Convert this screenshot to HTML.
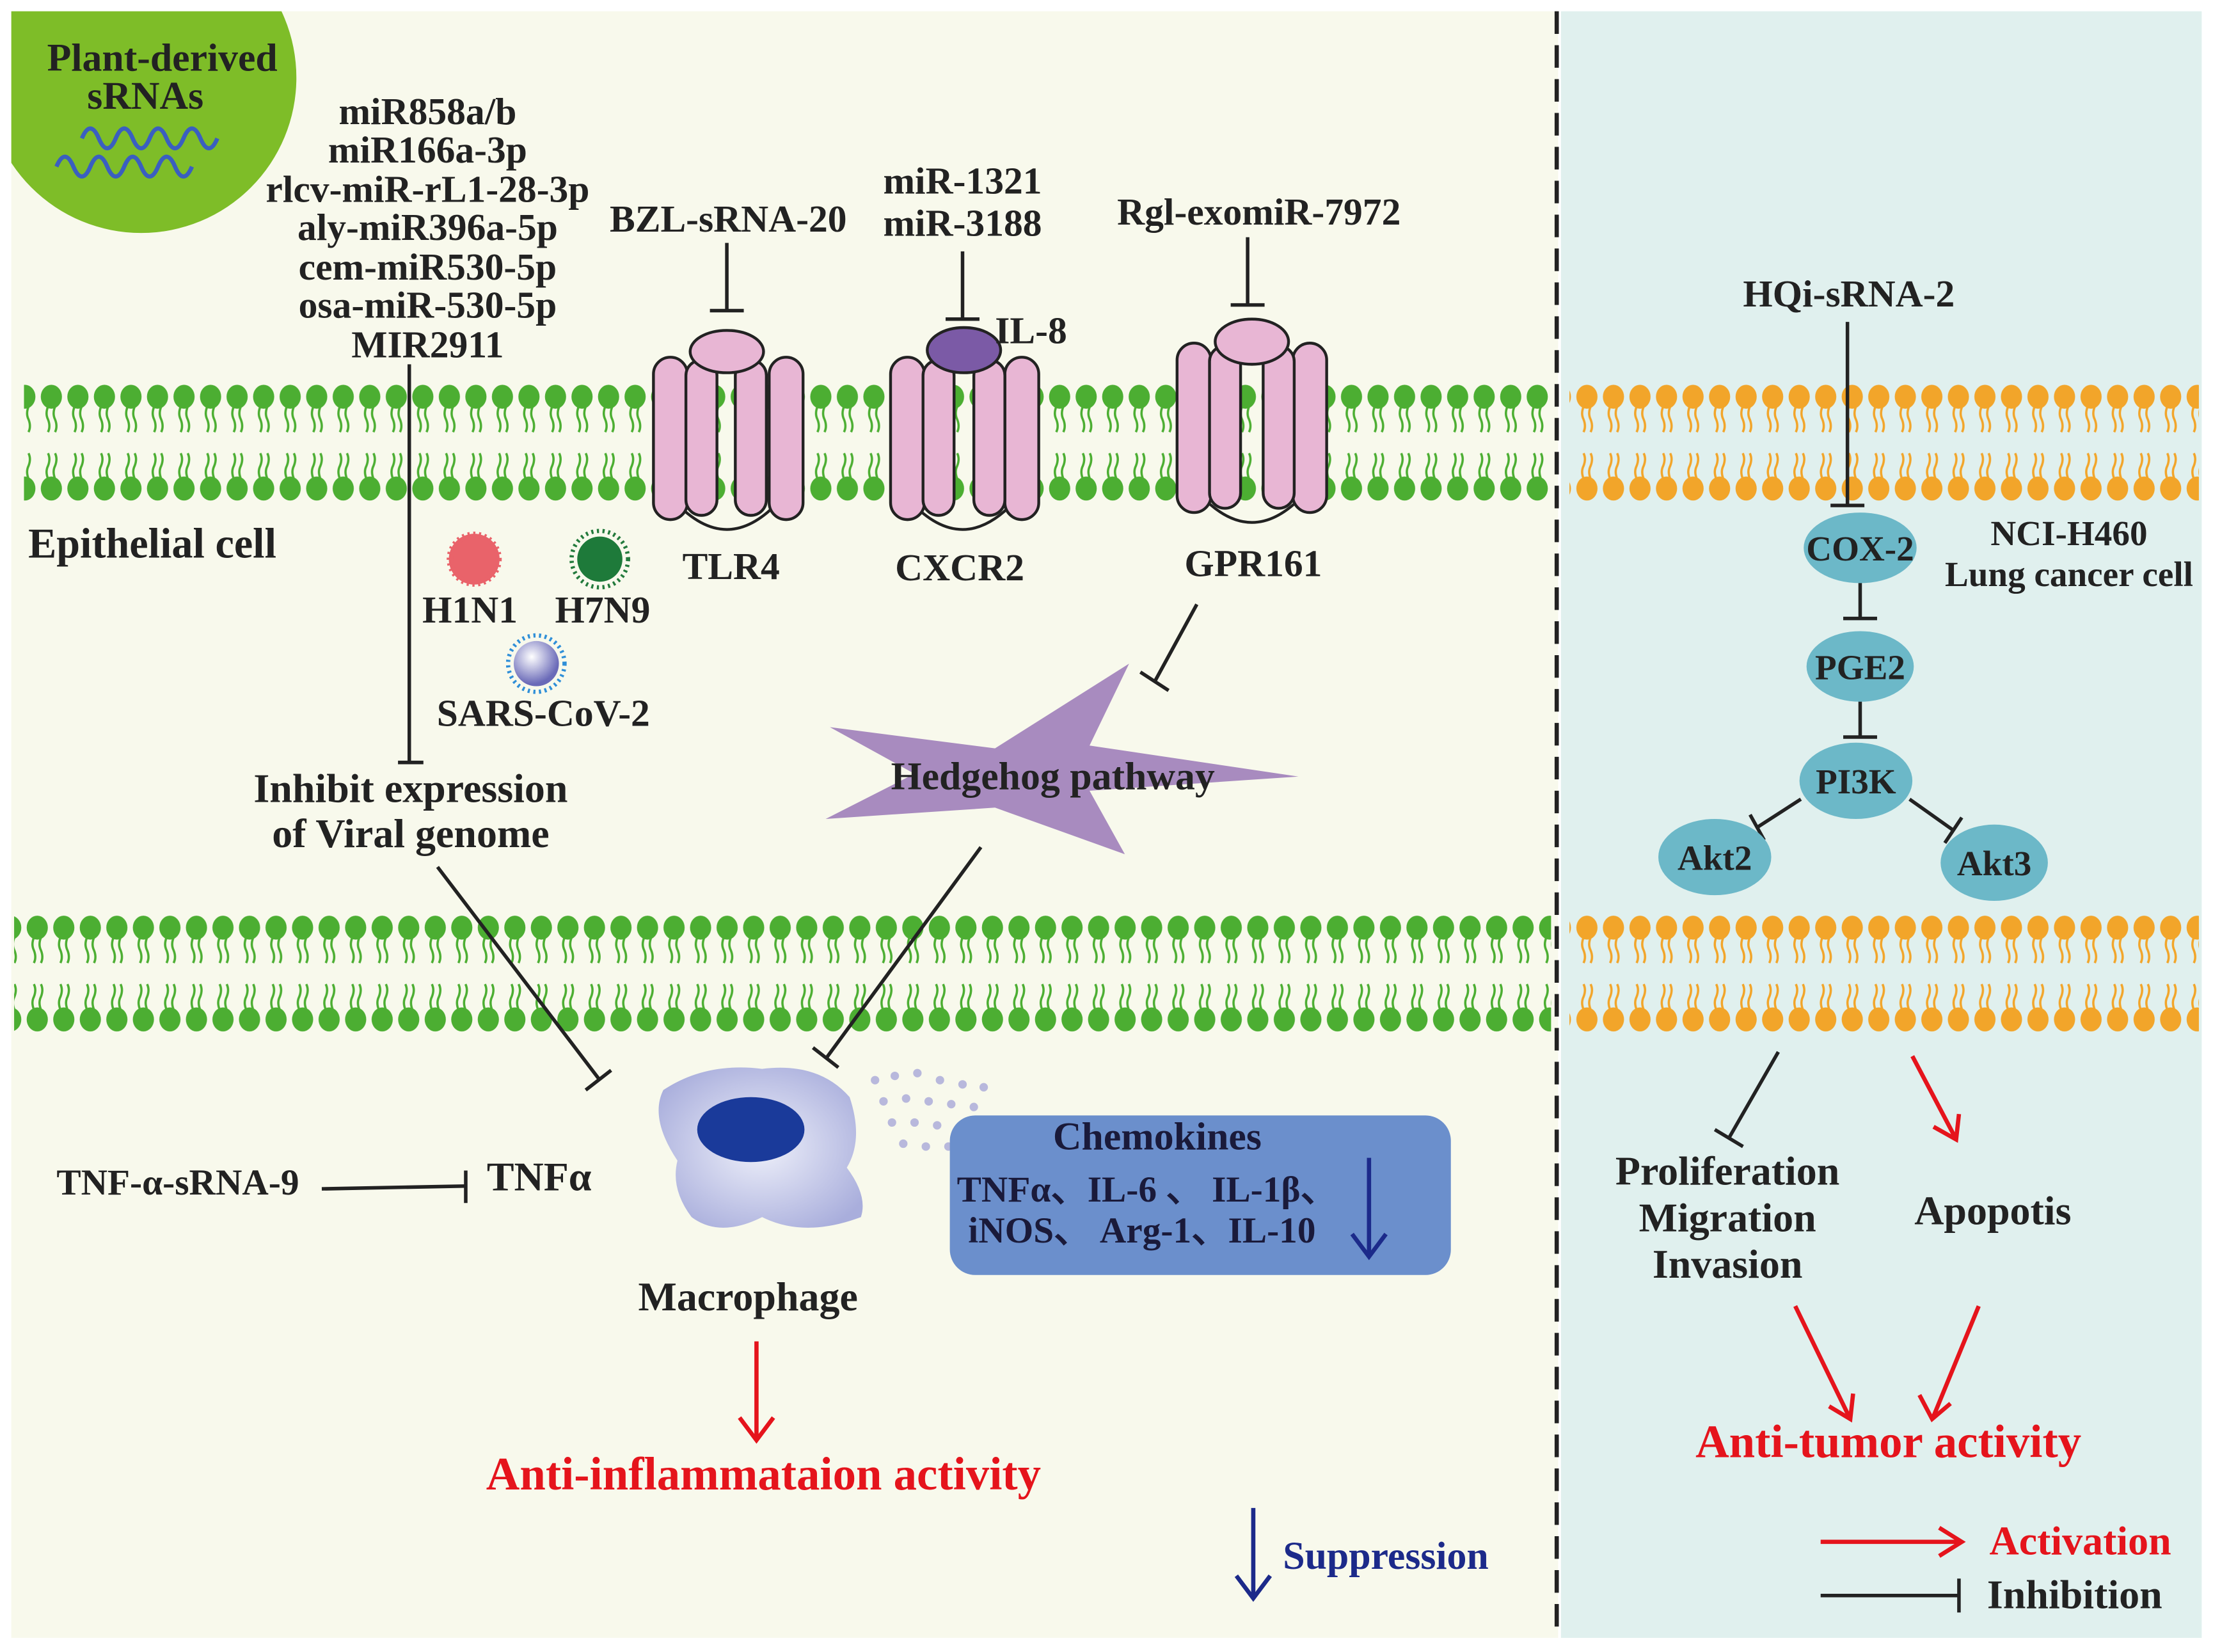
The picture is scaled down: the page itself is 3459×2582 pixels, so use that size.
<!DOCTYPE html>
<html><head><meta charset="utf-8"><style>html,body{margin:0;padding:0;background:#fff}svg{display:block}text{font-family:"Liberation Serif",serif;font-weight:bold}</style></head>
<body>
<svg width="3459" height="2582" viewBox="0 0 1568 1170" preserveAspectRatio="none" xmlns="http://www.w3.org/2000/svg">
<defs>
<pattern id="lg" patternUnits="userSpaceOnUse" x="27" y="268" width="18.8" height="90">
<ellipse cx="9.4" cy="13" rx="7.5" ry="8.5" fill="#4cae32"/>
<path d="M7 20 q-2 5 0 9 q2 5 0 9 M12 20 q-2 5 0 9 q2 5 0 9" stroke="#4cae32" stroke-width="1.6" fill="none"/>
<ellipse cx="9.4" cy="78" rx="7.5" ry="8.5" fill="#4cae32"/>
<path d="M7 71 q-2 -5 0 -9 q2 -5 0 -9 M12 71 q-2 -5 0 -9 q2 -5 0 -9" stroke="#4cae32" stroke-width="1.6" fill="none"/>
</pattern>
<pattern id="lo" patternUnits="userSpaceOnUse" x="1115" y="268" width="18.8" height="90">
<ellipse cx="9.4" cy="13" rx="7.5" ry="8.5" fill="#f2a52a"/>
<path d="M7 20 q-2 5 0 9 q2 5 0 9 M12 20 q-2 5 0 9 q2 5 0 9" stroke="#f2a52a" stroke-width="1.6" fill="none"/>
<ellipse cx="9.4" cy="78" rx="7.5" ry="8.5" fill="#f2a52a"/>
<path d="M7 71 q-2 -5 0 -9 q2 -5 0 -9 M12 71 q-2 -5 0 -9 q2 -5 0 -9" stroke="#f2a52a" stroke-width="1.6" fill="none"/>
</pattern>
<pattern id="lg2" patternUnits="userSpaceOnUse" x="17" y="644" width="18.8" height="90">
<ellipse cx="9.4" cy="13" rx="7.5" ry="8.5" fill="#4cae32"/>
<path d="M7 20 q-2 5 0 9 q2 5 0 9 M12 20 q-2 5 0 9 q2 5 0 9" stroke="#4cae32" stroke-width="1.6" fill="none"/>
<ellipse cx="9.4" cy="78" rx="7.5" ry="8.5" fill="#4cae32"/>
<path d="M7 71 q-2 -5 0 -9 q2 -5 0 -9 M12 71 q-2 -5 0 -9 q2 -5 0 -9" stroke="#4cae32" stroke-width="1.6" fill="none"/>
</pattern>
<pattern id="lo2" patternUnits="userSpaceOnUse" x="1115" y="644" width="18.8" height="90">
<ellipse cx="9.4" cy="13" rx="7.5" ry="8.5" fill="#f2a52a"/>
<path d="M7 20 q-2 5 0 9 q2 5 0 9 M12 20 q-2 5 0 9 q2 5 0 9" stroke="#f2a52a" stroke-width="1.6" fill="none"/>
<ellipse cx="9.4" cy="78" rx="7.5" ry="8.5" fill="#f2a52a"/>
<path d="M7 71 q-2 -5 0 -9 q2 -5 0 -9 M12 71 q-2 -5 0 -9 q2 -5 0 -9" stroke="#f2a52a" stroke-width="1.6" fill="none"/>
</pattern>
<clipPath id="cl"><rect x="8" y="8" width="1094" height="1152"/></clipPath>
<radialGradient id="sg" cx="0.4" cy="0.35" r="0.6"><stop offset="0" stop-color="#fff"/><stop offset="1" stop-color="#6a6ab8"/></radialGradient>
<radialGradient id="mg" cx="0.5" cy="0.5" r="0.6"><stop offset="0" stop-color="#eef0fa"/><stop offset="1" stop-color="#a9aedc"/></radialGradient>
</defs>
<rect x="8" y="8" width="1096" height="1152" fill="#f8f9ec"/>
<rect x="1106" y="8" width="454" height="1152" fill="#e0f0ee"/>
<line x1="1103" y1="8" x2="1103" y2="1160" stroke="#222" stroke-width="3" stroke-dasharray="16 8"/>
<circle cx="100" cy="55" r="110" fill="#7ebd28" clip-path="url(#cl)"/>
<text x="115" y="50" font-size="28" text-anchor="middle" fill="#222">Plant-derived</text>
<text x="103" y="77" font-size="28" text-anchor="middle" fill="#222">sRNAs</text>
<path d="M58 98 q6 -14 12 0 q6 14 12 0 q6 -14 12 0 q6 14 12 0 q6 -14 12 0 q6 14 12 0 q6 -14 12 0 q6 14 12 0" stroke="#3a5fc0" stroke-width="3" fill="none"/>
<path d="M40 118 q6 -14 12 0 q6 14 12 0 q6 -14 12 0 q6 14 12 0 q6 -14 12 0 q6 14 12 0 q6 -14 12 0 q6 14 12 0" stroke="#3a5fc0" stroke-width="3" fill="none"/>
<g font-size="27" text-anchor="middle" fill="#222">
<text x="303" y="88">miR858a/b</text>
<text x="303" y="115">miR166a-3p</text>
<text x="303" y="143">rlcv-miR-rL1-28-3p</text>
<text x="303" y="170">aly-miR396a-5p</text>
<text x="303" y="198">cem-miR530-5p</text>
<text x="303" y="225">osa-miR-530-5p</text>
<text x="303" y="253">MIR2911</text>
<text x="516" y="164">BZL-sRNA-20</text>
<text x="682" y="137">miR-1321</text>
<text x="682" y="167">miR-3188</text>
<text x="892" y="159">Rgl-exomiR-7972</text>
<text x="1310" y="217">HQi-sRNA-2</text>
</g>
<rect x="17" y="268" width="1082" height="90" fill="url(#lg)"/>
<rect x="1112" y="268" width="446" height="90" fill="url(#lo)"/>
<rect x="10" y="644" width="1089" height="90" fill="url(#lg2)"/>
<rect x="1112" y="644" width="446" height="90" fill="url(#lo2)"/>
<g stroke="#222" stroke-width="2.5" fill="none">
<line x1="290" y1="258" x2="290" y2="540"/><line x1="282" y1="540" x2="300" y2="540"/>
<line x1="515" y1="172" x2="515" y2="220"/><line x1="503" y1="220" x2="527" y2="220"/>
<line x1="682" y1="178" x2="682" y2="226"/><line x1="670" y1="226" x2="694" y2="226"/>
<line x1="884" y1="168" x2="884" y2="216"/><line x1="872" y1="216" x2="896" y2="216"/>
<line x1="1309" y1="228" x2="1309" y2="358"/><line x1="1297" y1="358" x2="1321" y2="358"/>
</g>
<g stroke="#222" stroke-width="2" fill="#e8b6d4">
<path d="M478 355 q37 40 74 0" fill="none"/>
<rect x="463" y="253" width="24" height="115" rx="12"/><rect x="545" y="253" width="24" height="115" rx="12"/>
<rect x="486" y="255" width="22" height="110" rx="11"/><rect x="521" y="255" width="22" height="110" rx="11"/>
<ellipse cx="515" cy="249" rx="26" ry="15"/>
<path d="M645 355 q37 40 74 0" fill="none"/>
<rect x="631" y="253" width="24" height="115" rx="12"/><rect x="712" y="253" width="24" height="115" rx="12"/>
<rect x="654" y="255" width="22" height="110" rx="11"/><rect x="690" y="255" width="22" height="110" rx="11"/>
<ellipse cx="683" cy="248" rx="26" ry="16" fill="#7b5aa6"/>
<path d="M850 350 q37 40 74 0" fill="none"/>
<rect x="834" y="243" width="24" height="120" rx="12"/><rect x="916" y="243" width="24" height="120" rx="12"/>
<rect x="857" y="245" width="22" height="115" rx="11"/><rect x="895" y="245" width="22" height="115" rx="11"/>
<ellipse cx="887" cy="242" rx="26" ry="16"/>
</g>
<g font-size="27" fill="#222">
<text x="705" y="243">IL-8</text>
<text x="20" y="395" font-size="30">Epithelial cell</text>
<text x="518" y="410" text-anchor="middle">TLR4</text>
<text x="680" y="411" text-anchor="middle">CXCR2</text>
<text x="888" y="408" text-anchor="middle">GPR161</text>
<text x="333" y="441" text-anchor="middle">H1N1</text>
<text x="427" y="441" text-anchor="middle">H7N9</text>
<text x="385" y="514" text-anchor="middle">SARS-CoV-2</text>
<text x="291" y="568" text-anchor="middle" font-size="29">Inhibit expression</text>
<text x="291" y="600" text-anchor="middle" font-size="29">of Viral genome</text>
<text x="1466" y="386" text-anchor="middle" font-size="25">NCI-H460</text>
<text x="1466" y="415" text-anchor="middle" font-size="25">Lung cancer cell</text>
<text x="126" y="846" text-anchor="middle" font-size="26">TNF-α-sRNA-9</text>
<text x="382" y="843" text-anchor="middle" font-size="29">TNFα</text>
<text x="530" y="928" text-anchor="middle" font-size="29">Macrophage</text>
<text x="1224" y="839" text-anchor="middle" font-size="29">Proliferation</text>
<text x="1224" y="872" text-anchor="middle" font-size="29">Migration</text>
<text x="1224" y="905" text-anchor="middle" font-size="29">Invasion</text>
<text x="1412" y="867" text-anchor="middle" font-size="29">Apopotis</text>
</g>
<circle cx="336" cy="396" r="18" fill="#e9636a" stroke="#e9636a" stroke-width="3" stroke-dasharray="1.5 2.5" />
<circle cx="336" cy="396" r="15" fill="#e9636a"/>
<circle cx="425" cy="396" r="20" fill="none" stroke="#237a3c" stroke-width="3" stroke-dasharray="1.5 2.5"/>
<circle cx="425" cy="396" r="16" fill="#1e7a3a"/>
<circle cx="380" cy="470" r="20" fill="none" stroke="#2f8fd8" stroke-width="3" stroke-dasharray="1.5 2.5"/>
<circle cx="380" cy="470" r="16" fill="url(#sg)"/>
<polygon points="588,515 705,530 800,470 772,528 920,550 772,560 797,605 705,572 585,580 648,548" fill="#a88bbf"/>
<text x="746" y="559" font-size="28" text-anchor="middle" fill="#222">Hedgehog pathway</text>
<g stroke="#222" stroke-width="2.5" fill="none">
<line x1="848" y1="428" x2="818" y2="483"/><line x1="808" y1="476" x2="828" y2="489"/>
<line x1="310" y1="614" x2="425" y2="765"/><line x1="415" y1="772" x2="433" y2="758"/>
<line x1="695" y1="600" x2="585" y2="750"/><line x1="576" y1="742" x2="594" y2="756"/>
<line x1="228" y1="842" x2="330" y2="840"/><line x1="330" y1="829" x2="330" y2="852"/>
<line x1="1260" y1="745" x2="1225" y2="806"/><line x1="1215" y1="800" x2="1235" y2="812"/>
<line x1="1318" y1="404" x2="1318" y2="438"/><line x1="1306" y1="438" x2="1330" y2="438"/>
<line x1="1318" y1="488" x2="1318" y2="522"/><line x1="1306" y1="522" x2="1330" y2="522"/>
<line x1="1276" y1="566" x2="1245" y2="586"/><line x1="1240" y1="577" x2="1250" y2="595"/>
<line x1="1353" y1="566" x2="1384" y2="588"/><line x1="1378" y1="597" x2="1390" y2="579"/>
<line x1="1290" y1="1130" x2="1388" y2="1130"/><line x1="1388" y1="1118" x2="1388" y2="1142"/>
</g>
<g fill="#6cb8c8">
<ellipse cx="1318" cy="388" rx="40" ry="25"/>
<ellipse cx="1318" cy="472" rx="38" ry="25"/>
<ellipse cx="1315" cy="553" rx="40" ry="27"/>
<ellipse cx="1215" cy="607" rx="40" ry="27"/>
<ellipse cx="1413" cy="611" rx="38" ry="27"/>
</g>
<g font-size="25" text-anchor="middle" fill="#222">
<text x="1318" y="397">COX-2</text><text x="1318" y="481">PGE2</text><text x="1315" y="562">PI3K</text>
<text x="1215" y="616">Akt2</text><text x="1413" y="620">Akt3</text>
</g>
<path d="M470 772 q30 -20 70 -15 q40 -5 62 20 q10 30 -2 50 q15 20 10 35 q-40 15 -70 0 q-30 15 -50 0 q-15 -20 -10 -40 q-20 -30 -10 -50z" fill="url(#mg)"/>
<ellipse cx="532" cy="800" rx="38" ry="23" fill="#1a3a9a"/>
<g fill="#b8b8dc">
<circle cx="620" cy="765" r="3"/><circle cx="634" cy="762" r="3"/><circle cx="650" cy="760" r="3"/><circle cx="666" cy="765" r="3"/><circle cx="682" cy="768" r="3"/><circle cx="697" cy="770" r="3"/>
<circle cx="626" cy="780" r="3"/><circle cx="642" cy="778" r="3"/><circle cx="658" cy="780" r="3"/><circle cx="674" cy="782" r="3"/><circle cx="690" cy="784" r="3"/>
<circle cx="632" cy="795" r="3"/><circle cx="648" cy="795" r="3"/><circle cx="664" cy="797" r="3"/><circle cx="680" cy="798" r="3"/>
<circle cx="640" cy="810" r="3"/><circle cx="656" cy="812" r="3"/><circle cx="672" cy="812" r="3"/>
</g>
<rect x="673" y="790" width="355" height="113" rx="18" fill="#6b8fcc"/>
<g font-size="26" fill="#1a1a3a">
<text x="820" y="814" text-anchor="middle" font-size="28">Chemokines</text>
<text x="678" y="851">TNFα、IL-6 、 IL-1β、</text>
<text x="686" y="880">iNOS、 Arg-1、IL-10</text>
</g>
<g stroke="#1c2a8a" stroke-width="3" fill="none">
<line x1="970" y1="820" x2="970" y2="888"/><path d="M958 874 L970 890 L982 874"/>
<line x1="888" y1="1068" x2="888" y2="1130"/><path d="M876 1116 L888 1132 L900 1116"/>
</g>
<text x="909" y="1111" font-size="28" fill="#1c2a8a">Suppression</text>
<g stroke="#e5141c" stroke-width="3" fill="none">
<line x1="536" y1="950" x2="536" y2="1018"/><path d="M524 1004 L536 1020 L548 1004"/>
<line x1="1355" y1="748" x2="1385" y2="805"/><path d="M1370 798 L1386 807 L1388 789"/>
<line x1="1272" y1="925" x2="1310" y2="1003"/><path d="M1296 996 L1311 1005 L1313 987"/>
<line x1="1402" y1="925" x2="1370" y2="1003"/><path d="M1360 988 L1369 1005 L1382 994"/>
<line x1="1290" y1="1092" x2="1388" y2="1092"/><path d="M1374 1082 L1390 1092 L1374 1102"/>
</g>
<g font-size="33" fill="#e5141c" text-anchor="middle">
<text x="541" y="1055">Anti-inflammataion activity</text>
<text x="1338" y="1032">Anti-tumor activity</text>
<text x="1474" y="1101" font-size="29">Activation</text>
</g>
<text x="1470" y="1139" font-size="29" text-anchor="middle" fill="#222">Inhibition</text>
</svg>
</body></html>
